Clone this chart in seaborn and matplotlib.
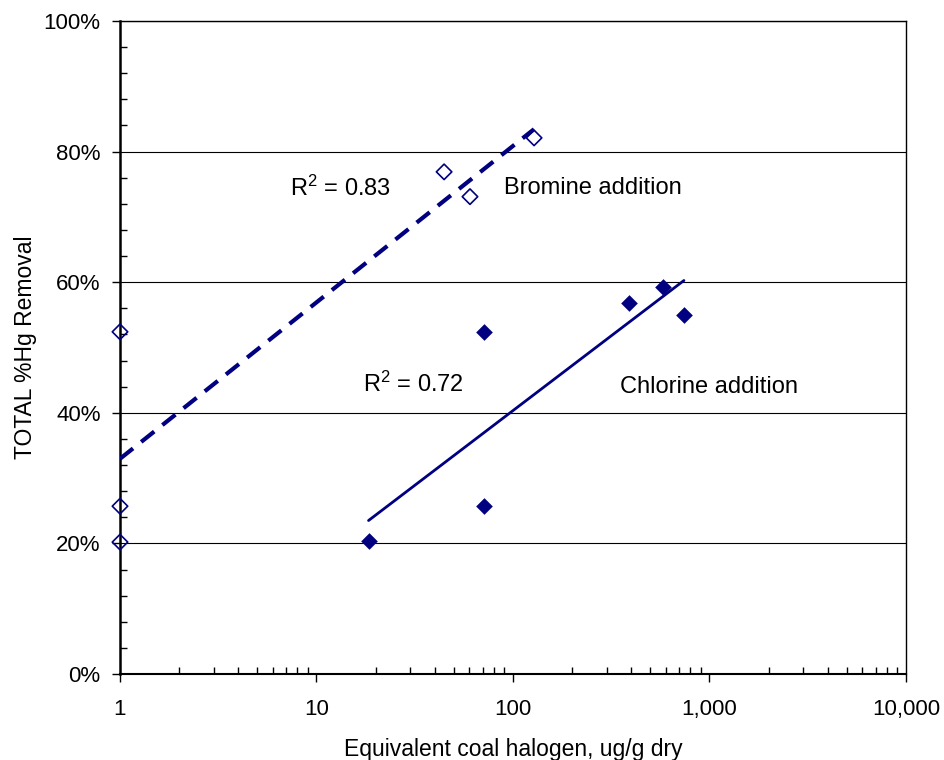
import numpy as np
import pandas as pd
import matplotlib
matplotlib.use("Agg")
import matplotlib.pyplot as plt
import matplotlib.ticker as mticker
import seaborn as sns

# bromine addition (open diamonds)
br_halogen = [1, 1, 1, 44.6, 60.4, 128]
br_removal = [52.4, 25.7, 20.2, 76.9, 73.1, 82.1]

# chlorine addition (filled diamonds)
cl_halogen = [18.4, 71.4, 71.4, 391, 582, 741]
cl_removal = [20.3, 52.4, 25.7, 56.8, 59.3, 55.0]

br_df = pd.DataFrame({"halogen": br_halogen, "removal": br_removal})
cl_df = pd.DataFrame({"halogen": cl_halogen, "removal": cl_removal})

navy = "#000080"

sns.set_theme(style="white")
plt.rcParams["font.family"] = ["Liberation Sans", "DejaVu Sans"]
plt.rcParams["mathtext.fontset"] = "custom"
plt.rcParams["mathtext.rm"] = "Liberation Sans"
plt.rcParams["mathtext.it"] = "Liberation Sans"
plt.rcParams["text.color"] = "black"

fig = plt.figure(figsize=(9.45, 7.6), dpi=100)
ax = fig.add_axes([120 / 945, 1 - 674 / 760, 786 / 945, 653 / 760])
ax.set_xscale("log")

sns.regplot(data=br_df, x="halogen", y="removal", logx=True, ci=None, ax=ax,
            marker="D", color=navy, truncate=True,
            scatter_kws={"facecolors": "none", "s": 62, "linewidths": 1.2,
                         "alpha": 1, "zorder": 4, "clip_on": False},
            line_kws={"lw": 3, "ls": (0, (4, 2.5)), "zorder": 3})
sns.regplot(data=cl_df, x="halogen", y="removal", logx=True, ci=None, ax=ax,
            marker="D", color=navy, truncate=True,
            scatter_kws={"s": 72, "linewidths": 0, "alpha": 1, "zorder": 4,
                         "clip_on": False},
            line_kws={"lw": 2, "zorder": 3})

ax.set_xlim(1, 10000)
ax.set_ylim(0, 100)

ax.xaxis.set_major_locator(mticker.LogLocator(base=10, numticks=10))
ax.xaxis.set_minor_locator(mticker.LogLocator(base=10, subs=np.arange(2, 10), numticks=20))
ax.xaxis.set_major_formatter(mticker.FuncFormatter(lambda v, p: f"{v:,.0f}"))
ax.xaxis.set_minor_formatter(mticker.NullFormatter())
ax.yaxis.set_major_locator(mticker.MultipleLocator(20))
ax.yaxis.set_minor_locator(mticker.MultipleLocator(4))
ax.yaxis.set_major_formatter(mticker.FuncFormatter(lambda v, p: f"{v:.0f}%"))

ax.tick_params(which="major", direction="out", length=6, width=1, color="black",
               labelsize=16, labelcolor="black", left=True, bottom=True)
ax.tick_params(which="minor", direction="in", length=5, width=1, color="black",
               left=True, bottom=True)
ax.tick_params(axis="x", which="major", pad=12)
ax.tick_params(axis="y", which="major", pad=8)

ax.yaxis.grid(True, which="major", color="black", lw=0.8)
ax.set_axisbelow(True)
for s in ax.spines.values():
    s.set_color("black")
    s.set_linewidth(1)
ax.spines["left"].set_linewidth(1.8)
ax.spines["bottom"].set_linewidth(1.5)

ax.set_xlabel("Equivalent coal halogen, ug/g dry", fontsize=16.5, color="black", labelpad=13)
ax.set_ylabel("TOTAL %Hg Removal", fontsize=16.5, color="black", labelpad=5)

ax.text(7.3, 74.4, "R$^2$ = 0.83", fontsize=17, va="center", ha="left")
ax.text(90, 74.4, "Bromine addition", fontsize=17, va="center", ha="left")
ax.text(17.2, 44.3, "R$^2$ = 0.72", fontsize=17, va="center", ha="left")
ax.text(350, 44.0, "Chlorine addition", fontsize=17, va="center", ha="left")

plt.savefig("out.png", dpi=100)
plt.close()
